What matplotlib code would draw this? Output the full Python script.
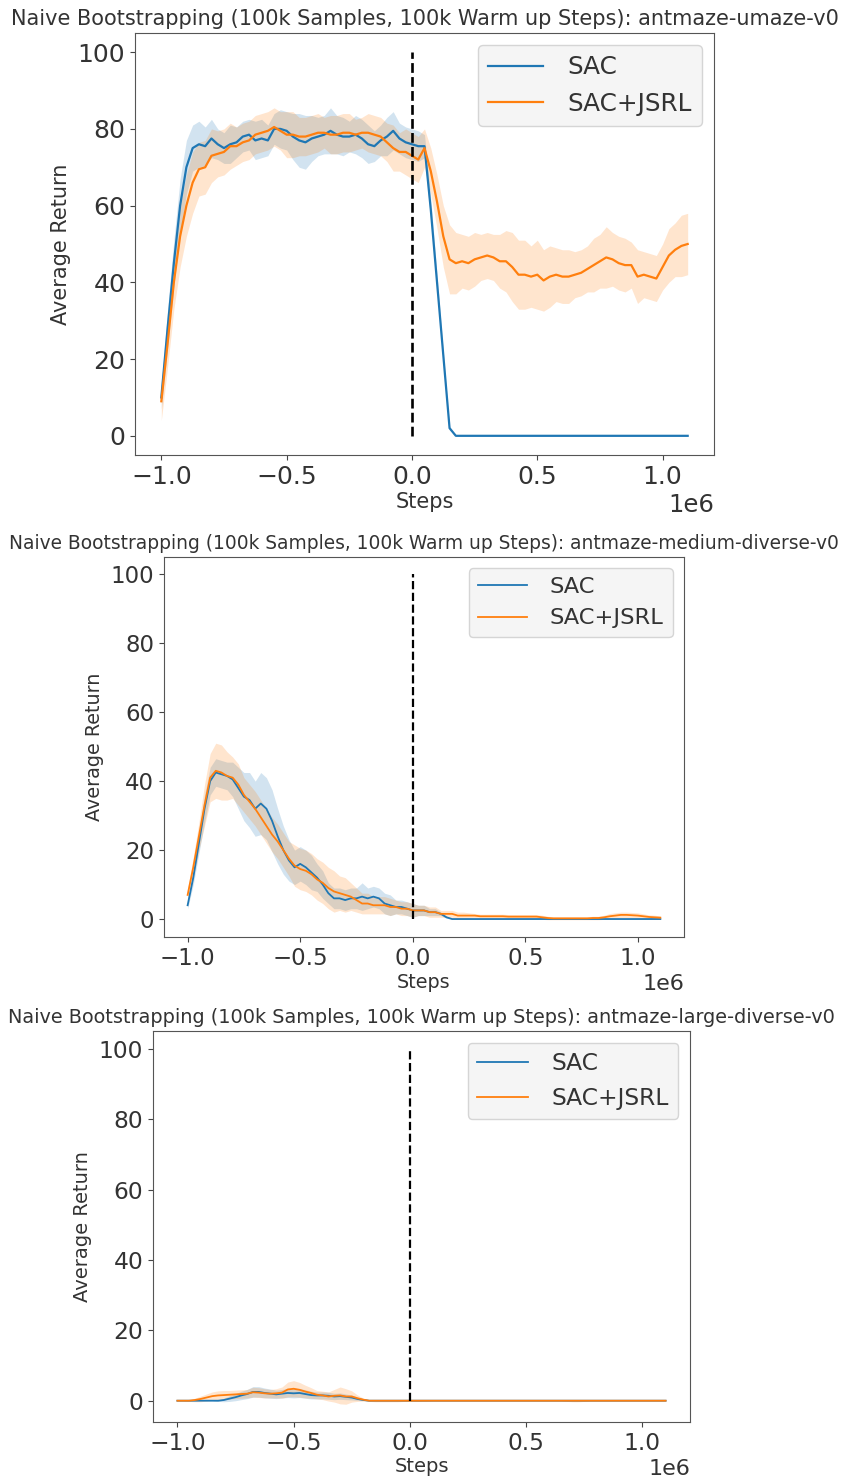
import numpy as np
import matplotlib
matplotlib.use('Agg')
import matplotlib.pyplot as plt

# evaluation steps (x 1e6), shared by every run
steps = np.linspace(-1.0e6, 1.1e6, 85)

# ---- antmaze-umaze-v0 ----
umaze_sac = [10, 28, 45, 60, 70, 75, 76, 75.5, 77.5, 76, 75, 76, 76.5, 78, 78.5, 77, 77.5, 77, 80, 80,
             79.5, 78, 77, 76.5, 77.5, 78, 78.5, 79.5, 78.5, 78, 78, 78.5, 77.5, 76, 75.5, 77, 78, 79.5, 77.5, 76.5,
             76, 75.5, 75.5, 59, 40, 21, 2, 0, 0, 0, 0, 0, 0, 0, 0, 0, 0, 0, 0, 0,
             0, 0, 0, 0, 0, 0, 0, 0, 0, 0, 0, 0, 0, 0, 0, 0, 0, 0, 0, 0,
             0, 0, 0, 0, 0]
umaze_sac_sd = [3, 5, 6, 7, 7, 6, 6, 5, 5, 4, 4, 5, 4, 4, 4, 5, 5, 4, 4, 5,
                5, 6, 7, 7, 6, 5, 5, 6, 5, 5, 4, 5, 5, 5, 4, 4, 5, 5, 4, 4,
                4, 4, 3, 3, 2, 1, 0.5, 0, 0, 0, 0, 0, 0, 0, 0, 0, 0, 0, 0, 0,
                0, 0, 0, 0, 0, 0, 0, 0, 0, 0, 0, 0, 0, 0, 0, 0, 0, 0, 0, 0,
                0, 0, 0, 0, 0]
umaze_jsrl = [9, 24, 40, 52, 60, 66, 69.5, 70, 73, 73.5, 74, 75.5, 75.5, 76.5, 77, 78.5, 79, 79.5, 80.5, 79.5,
              78.5, 78.5, 78, 78, 78.5, 79, 79, 78.5, 78.5, 79, 79, 78.5, 79, 79, 78.5, 78, 76.5, 75, 74, 74,
              73, 72, 75, 69, 61, 52, 46, 45, 45.5, 45, 46, 46.5, 47, 46.5, 45.5, 45.5, 44, 42, 42, 41.5,
              42, 40.5, 41.5, 42, 41.5, 41.5, 42, 42.5, 43.5, 44.5, 45.5, 46.5, 46, 45, 44.5, 44.5, 41.5, 42, 41.5, 41,
              44, 47, 48.5, 49.5, 50]
umaze_jsrl_sd = [5, 6, 7, 8, 8, 8, 7, 7, 7, 6, 6, 6, 5, 5, 5, 5, 5, 5, 5, 5,
                 6, 6, 5, 5, 5, 5, 4, 5, 5, 5, 5, 4, 4, 5, 5, 5, 5, 6, 5, 6,
                 6, 6, 5, 6, 7, 8, 9, 8, 7, 7, 7, 6, 6, 6, 7, 8, 9, 9, 9, 8,
                 9, 8, 8, 7, 7, 7, 6, 6, 6, 7, 7, 8, 7, 7, 7, 6, 7, 6, 6, 6,
                 6, 7, 7, 8, 8]

# ---- antmaze-medium-diverse-v0 ----
medium_sac = [4, 12, 22, 32, 40, 42.5, 42, 41.5, 40.5, 38, 35.5, 34.5, 32, 33.5, 32, 28.5, 24, 20, 17, 15,
              16, 15, 13.5, 12, 10, 7.5, 6, 6, 5.5, 6, 6, 6.5, 6, 6.5, 6, 4.5, 4, 3.5, 3.5, 3,
              2.5, 2.5, 2.5, 2, 2, 1.5, 0.5, 0, 0, 0, 0, 0, 0, 0, 0, 0, 0, 0, 0, 0,
              0, 0, 0, 0, 0, 0, 0, 0, 0, 0, 0, 0, 0, 0, 0, 0, 0, 0, 0, 0,
              0, 0, 0, 0, 0]
medium_sac_sd = [1, 2, 3, 4, 4, 4, 4, 4, 5, 6, 7, 8, 8, 9, 9, 9, 8, 7, 6, 5,
                 5, 5, 5, 4, 4, 3, 3, 3, 3, 3, 3, 4, 3, 3, 3, 3, 3, 2, 2, 2,
                 2, 1.5, 1.5, 1, 1, 0.5, 0.3, 0, 0, 0, 0, 0, 0, 0, 0, 0, 0, 0, 0, 0,
                 0, 0, 0, 0, 0, 0, 0, 0, 0, 0, 0, 0, 0, 0, 0, 0, 0, 0, 0, 0,
                 0, 0, 0, 0, 0]
medium_jsrl = [7, 15, 24, 33, 41, 43, 42.5, 41.5, 41, 39, 36, 34, 32, 29.5, 27, 24.5, 22.5, 20, 17.5, 15.5,
               14.5, 14, 13, 11.5, 10.5, 9, 8, 7.5, 7, 6.5, 5.5, 4.5, 4.5, 4, 4, 4, 3.5, 3.5, 3, 3,
               2.5, 2.5, 2.5, 2, 2, 1.5, 1.5, 1.5, 1, 1, 1, 1, 0.8, 0.8, 0.8, 0.8, 0.8, 0.7, 0.7, 0.7,
               0.7, 0.7, 0.7, 0.5, 0.3, 0.2, 0.2, 0.2, 0.2, 0.2, 0.2, 0.2, 0.3, 0.3, 0.5, 0.8, 1.0, 1.2, 1.2, 1.1,
               1.0, 0.8, 0.6, 0.5, 0.4]
medium_jsrl_sd = [2, 3, 4, 6, 7, 8, 8, 7, 6, 6, 5, 5, 5, 5, 5, 5, 5, 5, 5, 6,
                  6, 6, 6, 6, 6, 6, 6, 5, 5, 4, 3.5, 3, 3, 2.5, 2.5, 2.5, 2.5, 2, 2, 2,
                  2, 1.5, 1.5, 1.5, 1.5, 1, 1, 1, 1, 1, 0.8, 0.6, 0.6, 0.6, 0.6, 0.6, 0.6, 0.6, 0.6, 0.6,
                  0.6, 0.6, 0.6, 0.6, 0.5, 0.4, 0.4, 0.4, 0.4, 0.4, 0.4, 0.4, 0.5, 0.5, 0.6, 0.8, 0.8, 0.8, 0.8, 0.8,
                  0.8, 0.7, 0.6, 0.6, 0.5]

# ---- antmaze-large-diverse-v0 ----
large_sac = [0, 0, 0, 0, 0, 0, 0, 0, 0.2, 0.6, 1.0, 1.5, 1.9, 2.5, 2.5, 2.2, 2.0, 1.8, 2.0, 2.2,
             2.1, 2.2, 1.9, 1.6, 1.5, 1.5, 1.4, 1.2, 1.3, 1.1, 0.9, 0.5, 0.2, 0, 0, 0, 0, 0, 0, 0,
             0, 0, 0, 0, 0, 0, 0, 0, 0, 0, 0, 0, 0, 0, 0, 0, 0, 0, 0, 0,
             0, 0, 0, 0, 0, 0, 0, 0, 0, 0, 0, 0, 0, 0, 0, 0, 0, 0, 0, 0,
             0, 0, 0, 0, 0]
large_sac_sd = [0, 0, 0, 0, 0, 0, 0, 0.2, 0.5, 0.8, 1.0, 1.2, 1.3, 1.5, 1.5, 1.4, 1.3, 1.2, 1.2, 1.3,
                1.3, 1.3, 1.2, 1.1, 1.0, 1.0, 1.0, 0.9, 0.9, 0.8, 0.7, 0.4, 0.2, 0, 0, 0, 0, 0, 0, 0,
                0, 0, 0, 0, 0, 0, 0, 0, 0, 0, 0, 0, 0, 0, 0, 0, 0, 0, 0, 0,
                0, 0, 0, 0, 0, 0, 0, 0, 0, 0, 0, 0, 0, 0, 0, 0, 0, 0, 0, 0,
                0, 0, 0, 0, 0]
large_jsrl = [0, 0, 0, 0.2, 0.5, 0.9, 1.3, 1.5, 1.6, 1.7, 1.8, 1.9, 2.0, 2.4, 2.3, 2.1, 2.0, 2.1, 2.3, 3.2,
              3.4, 3.1, 2.6, 2.2, 1.7, 1.5, 1.2, 1.4, 1.5, 1.2, 1.2, 0.7, 0.3, 0, 0, 0, 0, 0, 0, 0,
              0, 0, 0, 0, 0, 0, 0, 0, 0, 0, 0, 0, 0, 0, 0, 0, 0, 0, 0, 0,
              0, 0, 0, 0, 0, 0, 0, 0, 0, 0, 0, 0, 0, 0, 0, 0, 0, 0, 0, 0,
              0, 0, 0, 0, 0]
large_jsrl_sd = [0, 0, 0.2, 0.5, 0.8, 1.0, 1.2, 1.3, 1.3, 1.2, 1.2, 1.2, 1.2, 1.4, 1.4, 1.3, 1.2, 1.3, 1.6, 2.1,
                 2.3, 2.1, 1.8, 1.5, 1.2, 1.2, 1.3, 1.8, 2.4, 2.2, 1.6, 0.9, 0.4, 0.2, 0.3, 0.3, 0.3, 0.3, 0.3, 0.2,
                 0.2, 0.2, 0.2, 0.1, 0, 0, 0, 0, 0, 0, 0, 0, 0, 0, 0, 0, 0, 0, 0, 0,
                 0, 0, 0, 0, 0, 0, 0, 0.2, 0.3, 0.3, 0.2, 0, 0, 0, 0, 0, 0, 0, 0, 0,
                 0, 0, 0, 0, 0]

envs = ['antmaze-umaze-v0', 'antmaze-medium-diverse-v0', 'antmaze-large-diverse-v0']
labels = ['SAC', 'SAC+JSRL']

W, H = 842, 1479
TEXT = '#333333'
plt.rcParams['font.family'] = 'DejaVu Sans'
plt.rcParams['text.color'] = TEXT
plt.rcParams['axes.labelcolor'] = TEXT
plt.rcParams['xtick.color'] = '#444444'
plt.rcParams['ytick.color'] = '#444444'
plt.rcParams['xtick.labelcolor'] = TEXT
plt.rcParams['ytick.labelcolor'] = TEXT

fig = plt.figure(figsize=(W / 100, H / 100), dpi=100)


def add_px_axes(left, right, top, bottom):
    return fig.add_axes([left / W, 1 - bottom / H, (right - left) / W, (bottom - top) / H])


def draw_panel(ax, env, runs, fs_tick, fs_leg, fs_title, fs_label, lw, fs_off):
    for (mean, sd), color, label in zip(runs, ['tab:blue', 'tab:orange'], labels):
        mean = np.array(mean, dtype=float)
        sd = np.array(sd, dtype=float)
        ax.plot(steps, mean, color=color, lw=lw, label=label)
        ax.fill_between(steps, mean - sd, mean + sd, color=color, alpha=0.2, lw=0)
    ax.vlines(0, 0, 100, colors='k', linestyles='dashed', lw=lw + 0.3)
    ax.set_title(f'Naive Bootstrapping (100k Samples, 100k Warm up Steps): {env}', fontsize=fs_title)
    ax.set_xlabel('Steps', fontsize=fs_label, labelpad=2)
    ax.set_ylabel('Average Return', fontsize=fs_label, labelpad=5)
    ax.tick_params(labelsize=fs_tick)
    ax.xaxis.get_offset_text().set_fontsize(fs_off)
    ax.set_yticks([0, 20, 40, 60, 80, 100])
    for s in ax.spines.values():
        s.set_color('#555555')
    leg = ax.legend(loc='upper right', fontsize=fs_leg, facecolor='#f5f5f5', edgecolor='#d5d5d5',
                    framealpha=1, handlelength=2.2, handletextpad=1.0)
    for line in leg.get_lines():
        line.set_linewidth(lw)


ax1 = add_px_axes(135, 714, 33, 455)
draw_panel(ax1, envs[0], [(umaze_sac, umaze_sac_sd), (umaze_jsrl, umaze_jsrl_sd)],
           18, 17.8, 15, 15, 1.6, 17.5)

ax2 = add_px_axes(164, 684, 557, 937)
draw_panel(ax2, envs[1], [(medium_sac, medium_sac_sd), (medium_jsrl, medium_jsrl_sd)],
           16.5, 16.2, 13.4, 13.8, 1.3, 16)

ax3 = add_px_axes(153, 690, 1031, 1422)
draw_panel(ax3, envs[2], [(large_sac, large_sac_sd), (large_jsrl, large_jsrl_sd)],
           16.8, 16.8, 13.9, 14, 1.3, 16)

fig.savefig('out.png', dpi=100)
plt.close()
